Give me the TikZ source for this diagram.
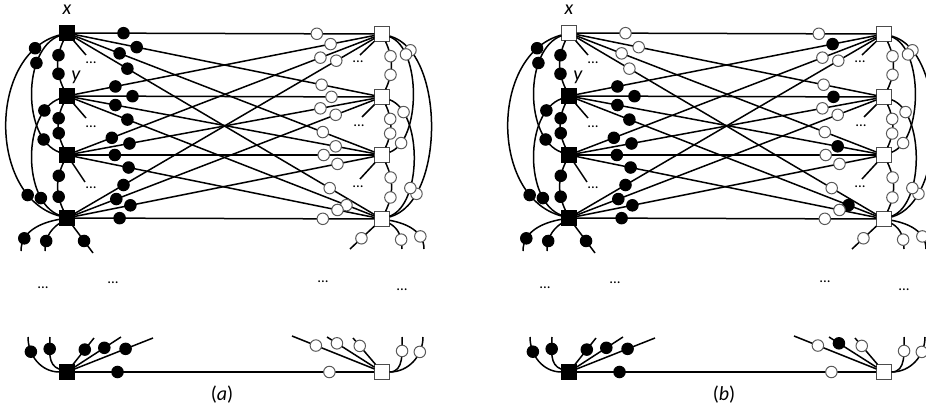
\documentclass[tikz,border=0pt]{standalone}
\usepackage{fontspec}
\setmainfont{Carlito}

\tikzset{
	sq/.style={rectangle, minimum size=14.5pt, inner sep=0pt, line width=0.8pt},
	bsq/.style={sq, draw=black, fill=black},
	wsq/.style={sq, draw=black!70, fill=white},
	dot/.style={circle, minimum size=11.5pt, inner sep=0pt, line width=1pt},
	bdot/.style={dot, draw=black, fill=black},
	wdot/.style={dot, draw=black!65, fill=white},
	ed/.style={line width=1.5pt},
	more/.style={font=\fontsize{15}{15}\selectfont, inner sep=0pt},
	lab/.style={font=\fontsize{20}{24}\selectfont, inner sep=0pt},
}
% i/j/pos near left/pos near right
\def\crossedges{1/1/.163/.808, 1/2/.207/.824, 1/3/.150/.828, 1/4/.176/.851,
	2/1/.136/.854, 2/2/.193/.857, 2/3/.136/.871, 2/4/.176/.907,
	3/1/.124/.820, 3/2/.183/.820, 3/3/.134/.831, 3/4/.180/.877,
	4/1/.163/.873, 4/2/.139/.871, 4/3/.186/.877, 4/4/.150/.828}

\begin{document}
\begin{tikzpicture}[x=1pt, y=-1pt]
	\useasboundingbox (0,0) rectangle (926,417);
	\foreach \P/\sx/\xsq/\xd/\yd/\zd in {a/0/bsq/bdot/wdot/wdot, b/502/wsq/wdot/bdot/bdot}{
	\begin{scope}[xshift=\sx pt, ld1/.style={\xd}, ld2/.style={bdot}, ld3/.style={bdot}, ld4/.style={bdot},
		rd1/.style={wdot}, rd2/.style={\yd}, rd3/.style={wdot}, rd4/.style={wdot}]
	\node[\xsq] (\P L1) at (67,33) {};
	\node[bsq] (\P L2) at (67,96) {};
	\node[bsq] (\P L3) at (67,155) {};
	\node[bsq] (\P L4) at (67,218) {};
		\node[wsq] (\P R1) at (382,34) {};
		\node[wsq] (\P R2) at (382,97) {};
		\node[wsq] (\P R3) at (382,155) {};
		\node[wsq] (\P R4) at (382,219) {};
	\node[bsq] (\P B) at (67,372) {};
	\node[wsq] (\P C) at (382,372) {};
	\node[lab] (\P x) at (67,10) {\textit{x}};
	\node[lab] (\P y) at (76,77) {\textit{y}};
	\node[lab] (\P cap) at (222,395) {(\textit{\P})};

	\foreach \i/\j/\p/\q in \crossedges
		\draw[ed] (\P L\i) -- (\P R\j);
	\foreach \i/\j/\p/\q in \crossedges
		\path (\P L\i) -- node[ld\i, pos=\p] {} node[rd\i, pos=\q] {} (\P R\j);

	% left column
	\draw[ed] (\P L1) to[bend right=25] node[bdot,pos=.3]{} node[bdot,pos=.7]{} (\P L2);
	\draw[ed] (\P L2) to[bend right=25] node[bdot,pos=.33]{} node[bdot,pos=.68]{} (\P L3);
	\draw[ed] (\P L3) to[bend right=25] node[bdot,pos=.27]{} node[bdot,pos=.72]{} (\P L4);
	\draw[ed] (\P L1) to[out=195,in=165,looseness=1.05] node[bdot,pos=.13]{} node[bdot,pos=.82]{} (\P L4);
	\draw[ed] (\P L1) to[out=200,in=160,looseness=.87] node[bdot,pos=.29]{} node[bdot,pos=.83]{} (\P L3);
	\draw[ed] (\P L2) to[out=200,in=160,looseness=.87] node[bdot,pos=.16]{} node[bdot,pos=.79]{} (\P L4);
	% right column
	\draw[ed] (\P R1) to[bend left=25] node[wdot,pos=.3]{} node[wdot,pos=.7]{} (\P R2);
	\draw[ed] (\P R2) to[bend left=25] node[wdot,pos=.33]{} node[wdot,pos=.68]{} (\P R3);
	\draw[ed] (\P R3) to[bend left=25] node[wdot,pos=.3]{} node[wdot,pos=.72]{} (\P R4);
	\draw[ed] (\P R1) to[out=-15,in=15,looseness=.82] node[wdot,pos=.145]{} node[wdot,pos=.8]{} (\P R4);
	\draw[ed] (\P R1) to[out=-20,in=20,looseness=.75] node[wdot,pos=.22]{} node[wdot,pos=.86]{} (\P R3);
	\draw[ed] (\P R2) to[out=-20,in=20,looseness=.77] node[wdot,pos=.17]{} node[wdot,pos=.7]{} (\P R4);

	% short ends
	\coordinate (\P m1) at (86,55);
	\coordinate (\P m2) at (86,118);
	\coordinate (\P m3) at (85,182);
	\coordinate (\P n1) at (360,55);
	\coordinate (\P n2) at (362,117);
	\coordinate (\P n3) at (360,179);
	\draw[ed] (\P L1) -- (\P m1);
	\draw[ed] (\P L2) -- (\P m2);
	\draw[ed] (\P L3) -- (\P m3);
	\draw[ed] (\P R1) -- (\P n1);
	\draw[ed] (\P R2) -- (\P n2);
	\draw[ed] (\P R3) -- (\P n3);
	\node[more] (\P d1) at (91,63) {...};
	\node[more] (\P d2) at (91,127) {...};
	\node[more] (\P d3) at (91,188) {...};
	\node[more] (\P e1) at (358,62) {...};
	\node[more] (\P e2) at (359,126) {...};
	\node[more] (\P e3) at (358,187) {...};
	\node[more] (\P f1) at (43,288) {...};
	\node[more] (\P f2) at (113,283) {...};
	\node[more] (\P f3) at (323,282) {...};
	\node[more] (\P f4) at (402,290) {...};

	% stubs below the columns
	\coordinate (\P g1) at (21,251);
	\coordinate (\P g2) at (45,251);
	\coordinate (\P g3) at (93,253);
	\coordinate (\P h1) at (350,249);
	\coordinate (\P h2) at (402,249);
	\coordinate (\P h3) at (424,249);
	\draw[ed] (\P L4) to[out=190,in=90] node[bdot,pos=.75]{} (\P g1);
	\draw[ed] (\P L4) to[out=215,in=90] node[bdot,pos=.7]{} (\P g2);
	\draw[ed] (\P L4) -- node[bdot,pos=.56]{} (\P g3);
	\draw[ed] (\P R4) -- node[wdot,pos=.53]{} (\P h1);
	\draw[ed] (\P R4) to[out=-30,in=90] node[wdot,pos=.7]{} (\P h2);
	\draw[ed] (\P R4) to[out=-10,in=90] node[wdot,pos=.72]{} (\P h3);

	% bottom pair
	\coordinate (\P s1) at (28,337);
	\coordinate (\P s2) at (50,337);
	\coordinate (\P s3) at (94,338);
	\coordinate (\P s4) at (121,337);
	\coordinate (\P s5) at (153,338);
	\coordinate (\P t1) at (292,336);
	\coordinate (\P t2) at (327,337);
	\coordinate (\P t3) at (353,338);
	\coordinate (\P t4) at (402,337);
	\coordinate (\P t5) at (423,337);
	\draw[ed] (\P B) -- node[bdot,pos=.143]{} node[wdot,pos=.85]{} (\P C);
	\draw[ed] (\P B) to[out=180,in=-90] node[bdot,pos=.72]{} (\P s1);
	\draw[ed] (\P B) to[out=160,in=-90] node[bdot,pos=.7]{} (\P s2);
	\draw[ed] (\P B) -- node[bdot,pos=.56]{} (\P s3);
	\draw[ed] (\P B) -- node[bdot,pos=.64]{} (\P s4);
	\draw[ed] (\P B) -- node[bdot,pos=.65]{} (\P s5);
	\draw[ed] (\P C) -- node[wdot,pos=.71]{} (\P t1);
	\draw[ed] (\P C) -- node[\zd,pos=.79]{} (\P t2);
	\draw[ed] (\P C) -- node[wdot,pos=.7]{} (\P t3);
	\draw[ed] (\P C) to[out=0,in=-90] node[wdot,pos=.7]{} (\P t4);
	\draw[ed] (\P C) to[out=0,in=-90] node[wdot,pos=.72]{} (\P t5);
	\end{scope}
	}
\end{tikzpicture}
\end{document}
